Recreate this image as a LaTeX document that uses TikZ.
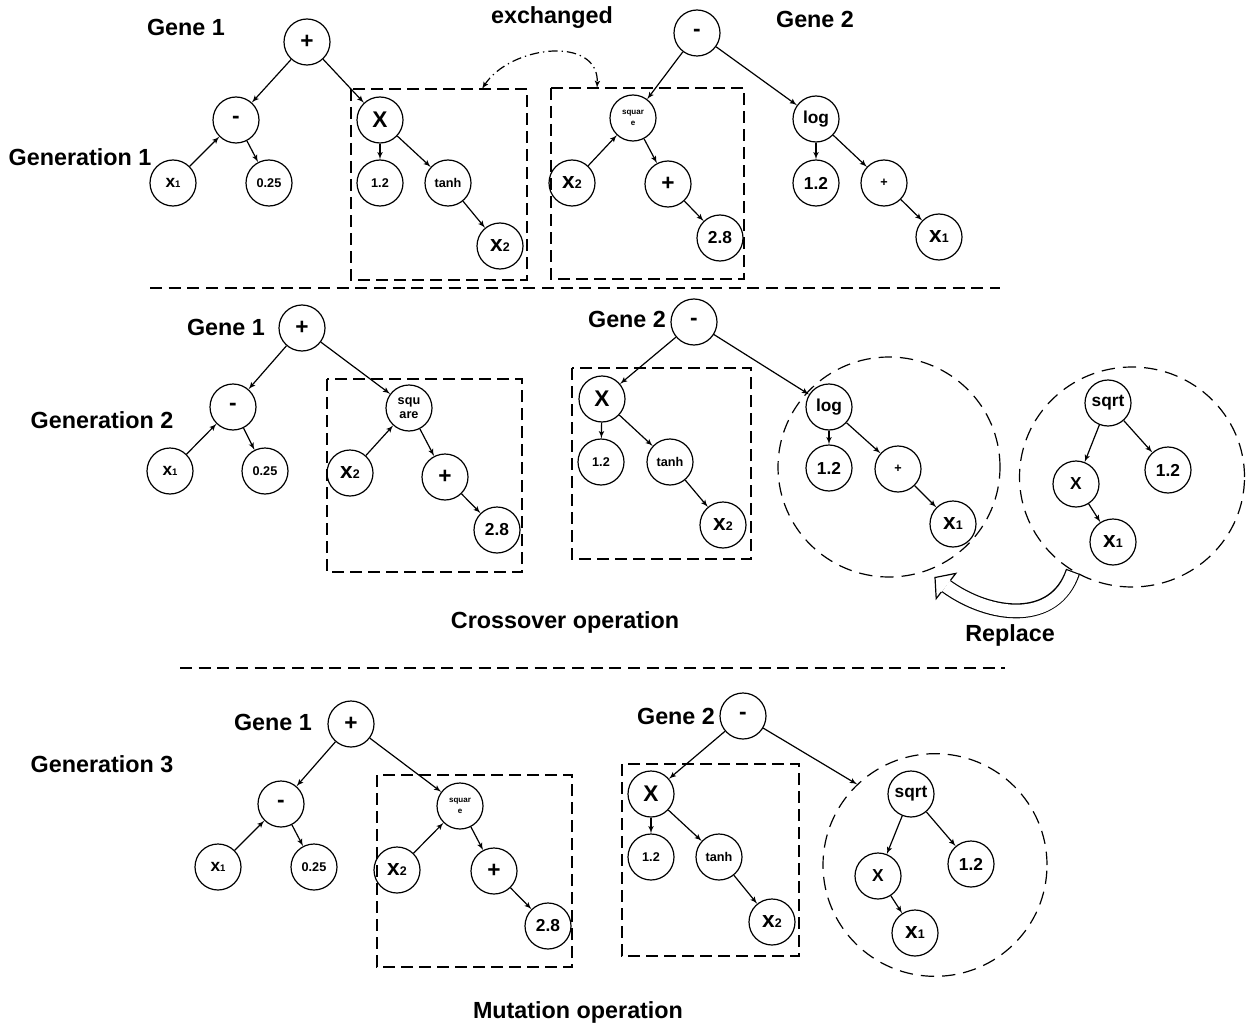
\documentclass[tikz,border=0pt]{standalone}
\usepackage{fontspec}
\setmainfont{Liberation Sans}
\usepackage{tikz}
\usetikzlibrary{shapes,arrows}
\newcommand{\laag}[1]{\scalebox{0.55}{#1}}
\tikzstyle{bolletje} = [circle, draw, line width=0.9pt, minimum size=34.5pt,
inner sep=0pt, align=center]
\tikzstyle{groot} = [bolletje, font=\fontsize{17}{15}\selectfont\bfseries]
\tikzstyle{middel} = [bolletje, font=\fontsize{13}{13}\selectfont\bfseries]
\tikzstyle{klein} = [bolletje, font=\fontsize{9.5}{10}\selectfont\bfseries]
\tikzstyle{mini} = [bolletje, font=\fontsize{6}{8}\selectfont\bfseries]
\tikzstyle{pijltje} = [draw, line width=0.9pt, -latex']
\tikzstyle{kader} = [draw, line width=1.1pt, dash pattern=on 9pt off 4.5pt]
\tikzstyle{kring} = [ellipse, draw, line width=0.9pt, dash pattern=on 10pt off 6pt]
\tikzstyle{scheiding} = [draw, line width=0.9pt, dash pattern=on 9pt off 5pt]
\tikzstyle{ruil} = [draw, line width=0.9pt, latex'-latex',
dash pattern=on 7pt off 3pt on 1pt off 3pt]
\tikzstyle{titel} = [font=\fontsize{17.5}{20}\selectfont\bfseries]

\begin{document}
\begin{tikzpicture}[x=0.75pt, y=-0.75pt]
	\useasboundingbox (0,0) rectangle (1249,1027);
	
	\node [titel] (gen1) at (80,157) {Generation 1};
	\node [titel] (geneone1) at (186,27) {Gene 1};
	\node [titel] (genetwo1) at (815,19) {Gene 2};
	\node [titel] (exchanged) at (552,18) {exchanged};
	
	\node [groot] (plus1) at (307,42) {+};
	\node [groot] (minus1) at (236,120) {-};
	\node [middel] (xone1) at (173,183) {x\laag{1}};
	\node [klein] (const1) at (269,183) {0.25};
	\node [groot] (times1) at (380,120) {X};
	\node [klein] (onetwo1) at (380,183) {1.2};
	\node [klein] (tanh1) at (448,183) {tanh};
	\node [groot] (xtwo1) at (500,246) {x\laag{2}};
	
	\node [groot] (root1) at (697,33) {-};
	\node [mini] (square1) at (633,118) {squar\\e};
	\node [groot] (xsq1) at (572,183) {x\laag{2}};
	\node [groot] (plussq1) at (668,184) {+};
	\node [middel] (twoeight1) at (720,238) {2.8};
	\node [middel] (log1) at (816,119) {log};
	\node [middel] (onetwolog1) at (816,183) {1.2};
	\node [klein] (pluslog1) at (884,183) {+};
	\node [groot] (xlog1) at (939,237) {x\laag{1}};
	
	\path [pijltje] (plus1)--(minus1);
	\path [pijltje] (plus1)--(times1);
	\path [pijltje] (xone1)--(minus1);
	\path [pijltje] (minus1)--(const1);
	\path [pijltje] (times1)--(onetwo1);
	\path [pijltje] (times1)--(tanh1);
	\path [pijltje] (tanh1)--(xtwo1);
	
	\path [pijltje] (root1)--(square1);
	\path [pijltje] (root1)--(log1);
	\path [pijltje] (xsq1)--(square1);
	\path [pijltje] (square1)--(plussq1);
	\path [pijltje] (plussq1)--(twoeight1);
	\path [pijltje] (log1)--(onetwolog1);
	\path [pijltje] (log1)--(pluslog1);
	\path [pijltje] (pluslog1)--(xlog1);
	
	\path [kader] (351,89) rectangle (527,280);
	\path [kader] (551,88) rectangle (744,279);
	\coordinate (swapleft) at (482,89);
	\coordinate (swapright) at (597,88);
	\path [ruil] (swapleft) .. controls (510,45) and (600,35) .. (swapright);
	
	\path [scheiding] (150,288) -- (1000,288);
	
	
	\node [titel] (gen2) at (102,420) {Generation 2};
	\node [titel] (geneone2) at (226,327) {Gene 1};
	\node [titel] (genetwo2) at (627,319) {Gene 2};
	\node [titel] (crossover) at (565,622) {Crossover operation};
	\node [titel] (replace) at (1010,635) {Replace};
	
	\node [groot] (plus2) at (302,328) {+};
	\node [groot] (minus2) at (233,407) {-};
	\node [middel] (xone2) at (170,471) {x\laag{1}};
	\node [klein] (const2) at (265,471) {0.25};
	\node [klein] (square2) at (409,408) {squ\\are};
	\node [groot] (xsq2) at (350,473) {x\laag{2}};
	\node [groot] (plussq2) at (445,477) {+};
	\node [middel] (twoeight2) at (497,530) {2.8};
	
	\node [groot] (root2) at (694,322) {-};
	\node [groot] (times2) at (602,399) {X};
	\node [klein] (onetwo2) at (601,462) {1.2};
	\node [klein] (tanh2) at (670,462) {tanh};
	\node [groot] (xtwo2) at (723,525) {x\laag{2}};
	\node [middel] (log2) at (829,407) {log};
	\node [middel] (onetwolog2) at (829,468) {1.2};
	\node [klein] (pluslog2) at (898,469) {+};
	\node [groot] (xlog2) at (953,524) {x\laag{1}};
	
	\node [middel] (sqrtnew) at (1108,403) {sqrt};
	\node [middel] (timesnew) at (1076,484) {X};
	\node [middel] (onetwonew) at (1168,470) {1.2};
	\node [groot] (xnew) at (1113,542) {x\laag{1}};
	
	\path [pijltje] (plus2)--(minus2);
	\path [pijltje] (plus2)--(square2);
	\path [pijltje] (xone2)--(minus2);
	\path [pijltje] (minus2)--(const2);
	\path [pijltje] (xsq2)--(square2);
	\path [pijltje] (square2)--(plussq2);
	\path [pijltje] (plussq2)--(twoeight2);
	
	\path [pijltje] (root2)--(times2);
	\path [pijltje] (root2)--(log2);
	\path [pijltje] (times2)--(onetwo2);
	\path [pijltje] (times2)--(tanh2);
	\path [pijltje] (tanh2)--(xtwo2);
	\path [pijltje] (log2)--(onetwolog2);
	\path [pijltje] (log2)--(pluslog2);
	\path [pijltje] (pluslog2)--(xlog2);
	
	\path [pijltje] (sqrtnew)--(timesnew);
	\path [pijltje] (sqrtnew)--(onetwonew);
	\path [pijltje] (timesnew)--(xnew);
	
	\path [kader] (327,379) rectangle (522,572);
	\path [kader] (572,368) rectangle (751,559);
	\node [kring, minimum width=166.5pt, minimum height=165pt] (ring2) at (889,467) {};
	\node [kring, minimum width=168.75pt, minimum height=165pt] (ringnew) at (1132,477) {};
	
	\coordinate (tail) at (ringnew.238);
	\draw [line width=11.2pt] (946,586) .. controls (990,618) and (1055,625) .. (tail);
	\draw [white, line width=9.4pt, shorten >=0.9pt] (946,586) .. controls (990,618) and (1055,625) .. (tail);
	\fill [white] (935,577.5) -- (955.8,573.4) -- (936.2,598.6) -- cycle;
	\draw [line width=0.9pt] (950.6,580.1) -- (955.8,573.4) -- (935,577.5) -- (936.2,598.6) -- (941.4,591.9);
	
	\path [scheiding] (180,668) -- (1005,668);
	
	
	\node [titel] (gen3) at (102,764) {Generation 3};
	\node [titel] (geneone3) at (273,722) {Gene 1};
	\node [titel] (genetwo3) at (676,716) {Gene 2};
	\node [titel] (mutation) at (578,1012) {Mutation operation};
	
	\node [groot] (plus3) at (351,724) {+};
	\node [groot] (minus3) at (281,804) {-};
	\node [middel] (xone3) at (218,867) {x\laag{1}};
	\node [klein] (const3) at (314,867) {0.25};
	\node [mini] (square3) at (460,806) {squar\\e};
	\node [groot] (xsq3) at (397,870) {x\laag{2}};
	\node [groot] (plussq3) at (494,871) {+};
	\node [middel] (twoeight3) at (548,926) {2.8};
	
	\node [groot] (root3) at (743,716) {-};
	\node [groot] (times3) at (651,794) {X};
	\node [klein] (onetwo3) at (651,857) {1.2};
	\node [klein] (tanh3) at (719,857) {tanh};
	\node [groot] (xtwo3) at (772,922) {x\laag{2}};
	\node [middel] (sqrt3) at (911,794) {sqrt};
	\node [middel] (timessqrt3) at (878,876) {X};
	\node [middel] (onetwosqrt3) at (971,864) {1.2};
	\node [groot] (xsqrt3) at (915,933) {x\laag{1}};
	
	\path [pijltje] (plus3)--(minus3);
	\path [pijltje] (plus3)--(square3);
	\path [pijltje] (xone3)--(minus3);
	\path [pijltje] (minus3)--(const3);
	\path [pijltje] (xsq3)--(square3);
	\path [pijltje] (square3)--(plussq3);
	\path [pijltje] (plussq3)--(twoeight3);
	
	\path [kader] (377,775) rectangle (572,967);
	\path [kader] (622,764) rectangle (799,956);
	\node [kring, minimum width=168pt, minimum height=167pt] (ring3) at (935,865) {};
	
	\path [pijltje] (root3)--(times3);
	\path [pijltje] (root3)--(ring3.134);
	\path [pijltje] (times3)--(onetwo3);
	\path [pijltje] (times3)--(tanh3);
	\path [pijltje] (tanh3)--(xtwo3);
	\path [pijltje] (sqrt3)--(timessqrt3);
	\path [pijltje] (sqrt3)--(onetwosqrt3);
	\path [pijltje] (timessqrt3)--(xsqrt3);
\end{tikzpicture}
\end{document}
